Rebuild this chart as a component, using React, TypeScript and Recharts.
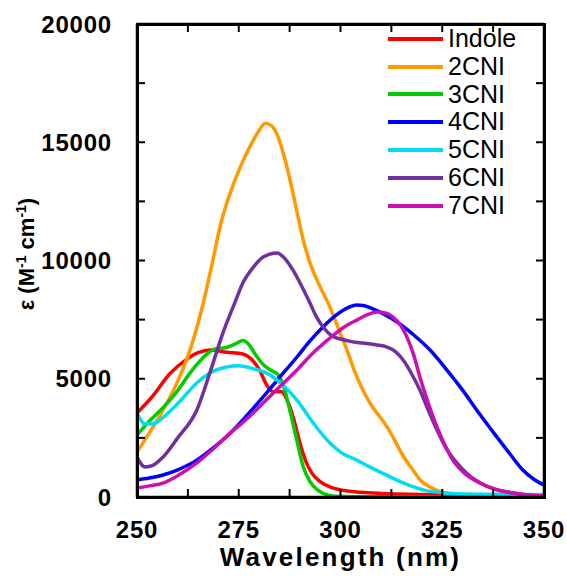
import React from 'react';
import { LineChart, Line, XAxis, YAxis, ReferenceLine } from 'recharts';

// Absorption spectra: [wavelength (nm), ε (M^-1 cm^-1)]
const indole = [
  [250, 3550], [254, 4300], [258, 5200], [262, 5800], [265, 6100], [268, 6220],
  [272, 6120], [276, 6050], [278, 5850], [280, 5400], [282, 4700], [283.5, 4450],
  [285.5, 4450], [287, 4050], [288.5, 3300], [290, 2300], [291.5, 1500], [293, 1000],
  [295, 650], [297.5, 420], [300, 300], [305, 200], [310, 150], [320, 110],
  [330, 80], [340, 50], [350, 30]
];

const cni2 = [
  [250, 1900], [253, 2700], [256.5, 3700], [260, 4900], [263, 6200], [266, 8000],
  [268.5, 9900], [270.5, 11500], [273, 12900], [275.5, 14000], [278, 14900],
  [280, 15500], [281.5, 15800], [283, 15700], [284.5, 15300], [286, 14500],
  [287.6, 13400], [289, 12300], [290.8, 10900], [292.5, 9900], [294.2, 9180],
  [297.4, 8030], [300, 6900], [301.6, 6215], [303.5, 5300], [305.5, 4520],
  [307.5, 3900], [309.7, 3380], [311.5, 2950], [313, 2500], [315, 1850],
  [317.8, 1140], [320, 650], [322, 420], [325, 200], [330, 85], [340, 40], [350, 20]
];

const cni3 = [
  [250, 2620], [253, 3200], [256.5, 3800], [260, 4500], [263, 5240], [266, 5850],
  [269, 6250], [272, 6320], [274.5, 6500], [276, 6620], [277.5, 6450], [279, 6050],
  [281, 5600], [283, 5350], [284.5, 5200], [286, 4700], [287.5, 3700], [289, 2600],
  [290.8, 1300], [292.5, 650], [294.5, 280], [297, 80], [300, 20], [310, 10], [350, 10]
];

const cni4 = [
  [250, 720], [253, 800], [256.4, 930], [260, 1150], [264.7, 1560], [268.5, 2050],
  [272.9, 2700], [277, 3450], [281, 4230], [285, 5050], [289.3, 5920], [292.5, 6600],
  [295.7, 7190], [299, 7700], [302, 8020], [304, 8120], [305.5, 8100], [308, 7950],
  [311, 7700], [313.9, 7400], [318, 6850], [322, 6215], [326, 5400], [330, 4520],
  [334, 3550], [338.4, 2540], [341.5, 1850], [344.8, 1140], [347.5, 750], [350, 510]
];

const cni5 = [
  [250, 3550], [252, 3090], [254, 3100], [256.5, 3380], [260, 3950], [264.7, 4820],
  [268, 5250], [272, 5500], [275, 5550], [278, 5450], [282.7, 5160], [286, 4700],
  [289.3, 4100], [293, 3200], [297.4, 2280], [300, 1900], [304, 1560], [308, 1200],
  [312.2, 850], [316, 550], [320.3, 300], [325, 180], [330, 130], [340, 110], [350, 100]
];

const cni6 = [
  [250, 1690], [252, 1270], [254, 1350], [256.4, 1690], [260, 2500], [264.7, 3680],
  [268, 5300], [271.1, 6930], [274, 8200], [276, 9050], [278.5, 9700], [281, 10150],
  [284.4, 10320], [286.5, 10050], [288.3, 9600], [290.5, 8900], [292.5, 8200],
  [294, 7650], [295.7, 7190], [298, 6800], [300, 6680], [303, 6560], [305.5, 6510],
  [309, 6430], [311.4, 6340], [313.5, 6150], [315.4, 5790], [317.5, 5200],
  [319.5, 4520], [321.5, 3700], [323.7, 2830], [326, 2050], [328.6, 1440],
  [331, 1000], [334.3, 590], [338, 320], [342.4, 170], [346, 90], [350, 50]
];

const cni7 = [
  [250, 380], [253, 470], [256.4, 590], [260, 900], [264.7, 1440], [268.5, 2000],
  [272.9, 2700], [277, 3300], [281, 3970], [285, 4650], [289.3, 5370], [293, 6050],
  [297.4, 6720], [301, 7200], [304, 7480], [306.5, 7700], [309, 7820], [311, 7780],
  [312.9, 7610], [314.8, 7250], [316.3, 6770], [318, 6000], [319.5, 5070],
  [321.5, 4000], [323.7, 2960], [325.5, 2250], [327.6, 1560], [330.5, 1000],
  [334.3, 590], [338, 330], [342.4, 170], [346, 90], [350, 40]
];

const seriesNames = ['Indole', '2CNI', '3CNI', '4CNI', '5CNI', '6CNI', '7CNI'];
const seriesData = [indole, cni2, cni3, cni4, cni5, cni6, cni7];
const seriesColors = ['#ff0000', '#ff9900', '#00cc00', '#0000ff', '#00ddf2', '#7030a0', '#cc10b0'];

const xTicks = [250, 262.5, 275, 287.5, 300, 312.5, 325, 337.5, 350];
const yTicks = [0, 2500, 5000, 7500, 10000, 12500, 15000, 17500, 20000];

const FONT = 'Arial, "Liberation Sans", sans-serif';
const TICK_LEN = 8;

// chart box and plot area
const W = 567;
const H = 580;
const MARGIN = { top: 24, right: 23, left: 0, bottom: 0 };
const Y_AXIS_W = 137;
const X_AXIS_H = 83;
const PLOT_W = 407;
const PLOT_H = 473;

const toRows = (pairs: number[][]) => pairs.map(([nm, eps]) => ({ nm, eps }));

// bottom ticks point inward, mirrored on the top edge of the frame
const BottomTick = (props: any) => {
  const { x, y, payload } = props;
  const v = payload.value;
  return (
    <g>
      <line x1={x} y1={y} x2={x} y2={y - TICK_LEN} stroke="#000" strokeWidth={2} />
      <line x1={x} y1={y - PLOT_H} x2={x} y2={y - PLOT_H + TICK_LEN} stroke="#000" strokeWidth={2} />
      <text x={x} y={y + 41} textAnchor="middle" fontFamily={FONT} fontWeight="bold" fontSize={24} letterSpacing={0.8} fill="#000">
        {v % 25 === 0 ? v : ''}
      </text>
    </g>
  );
};

// left ticks point inward, mirrored on the right edge of the frame
const LeftTick = (props: any) => {
  const { x, y, payload } = props;
  const v = payload.value;
  return (
    <g>
      <line x1={x} y1={y} x2={x + TICK_LEN} y2={y} stroke="#000" strokeWidth={2} />
      <line x1={x + PLOT_W} y1={y} x2={x + PLOT_W - TICK_LEN} y2={y} stroke="#000" strokeWidth={2} />
      <text x={x - 25} y={y + 8.5} textAnchor="end" fontFamily={FONT} fontWeight="bold" fontSize={24} letterSpacing={0.8} fill="#000">
        {v % 5000 === 0 ? v : ''}
      </text>
    </g>
  );
};

// legend overlay in the upper right corner of the plot
const SpectraLegend = () => (
  <div style={{ position: 'absolute', left: 388, top: 25, fontFamily: FONT, fontSize: 25, color: '#000' }}>
    {seriesNames.map((name, i) => (
      <div key={name} style={{ display: 'flex', alignItems: 'center', height: 27.8 }}>
        <svg width={55} height={6} style={{ marginRight: 5 }}>
          <line x1={0} y1={3} x2={55} y2={3} stroke={seriesColors[i]} strokeWidth={4} />
        </svg>
        <span style={{ lineHeight: '27.8px' }}>{name}</span>
      </div>
    ))}
  </div>
);

const XTitle = () => (
  <div
    style={{
      position: 'absolute', left: Y_AXIS_W, top: 542, width: PLOT_W, lineHeight: '30px',
      textAlign: 'center', fontFamily: FONT, fontWeight: 'bold', fontSize: 26, letterSpacing: 2.2, color: '#000'
    }}
  >
    Wavelength (nm)
  </div>
);

const YTitle = () => (
  <div
    style={{
      position: 'absolute', left: 27 - 100, top: 254 - 15, width: 200, height: 30, lineHeight: '30px',
      textAlign: 'center', transform: 'rotate(-90deg)', fontFamily: FONT, fontWeight: 'bold',
      fontSize: 22, color: '#000', whiteSpace: 'nowrap'
    }}
  >
    ε (M<sup style={{ fontSize: 14, lineHeight: 0 }}>-1</sup> cm<sup style={{ fontSize: 14, lineHeight: 0 }}>-1</sup>)
  </div>
);

// plot frame border
const Frame = () => (
  <div
    style={{
      position: 'absolute', left: Y_AXIS_W - 1.5, top: MARGIN.top - 1.5, width: PLOT_W + 3,
      height: PLOT_H + 3, boxSizing: 'border-box', border: '3px solid #000', pointerEvents: 'none'
    }}
  />
);

export default function App() {
  return (
    <div style={{ position: 'absolute', left: 0, top: 0, width: W, height: H }}>
      <LineChart width={W} height={H} margin={MARGIN}>
        <XAxis
          dataKey="nm"
          type="number"
          domain={[250, 350]}
          ticks={xTicks}
          interval={0}
          height={X_AXIS_H}
          tickSize={0}
          tickMargin={0}
          tickLine={false}
          tick={<BottomTick />}
          axisLine={{ stroke: '#000', strokeWidth: 2.5 }}
          allowDataOverflow
        />
        <YAxis
          type="number"
          domain={[0, 20000]}
          ticks={yTicks}
          interval={0}
          width={Y_AXIS_W}
          tickSize={0}
          tickMargin={0}
          tickLine={false}
          tick={<LeftTick />}
          axisLine={{ stroke: '#000', strokeWidth: 2.5 }}
          allowDataOverflow
        />
        {seriesData.map((pairs, i) => (
          <Line
            key={seriesNames[i]}
            name={seriesNames[i]}
            data={toRows(pairs)}
            dataKey="eps"
            type="monotone"
            stroke={seriesColors[i]}
            strokeWidth={3.5}
            dot={false}
            activeDot={false}
            isAnimationActive={false}
          />
        ))}
        <ReferenceLine y={20000} stroke="#000" strokeWidth={2.5} />
        <ReferenceLine x={350} stroke="#000" strokeWidth={2.5} />
      </LineChart>
      <Frame />
      <XTitle />
      <YTitle />
      <SpectraLegend />
    </div>
  );
}
